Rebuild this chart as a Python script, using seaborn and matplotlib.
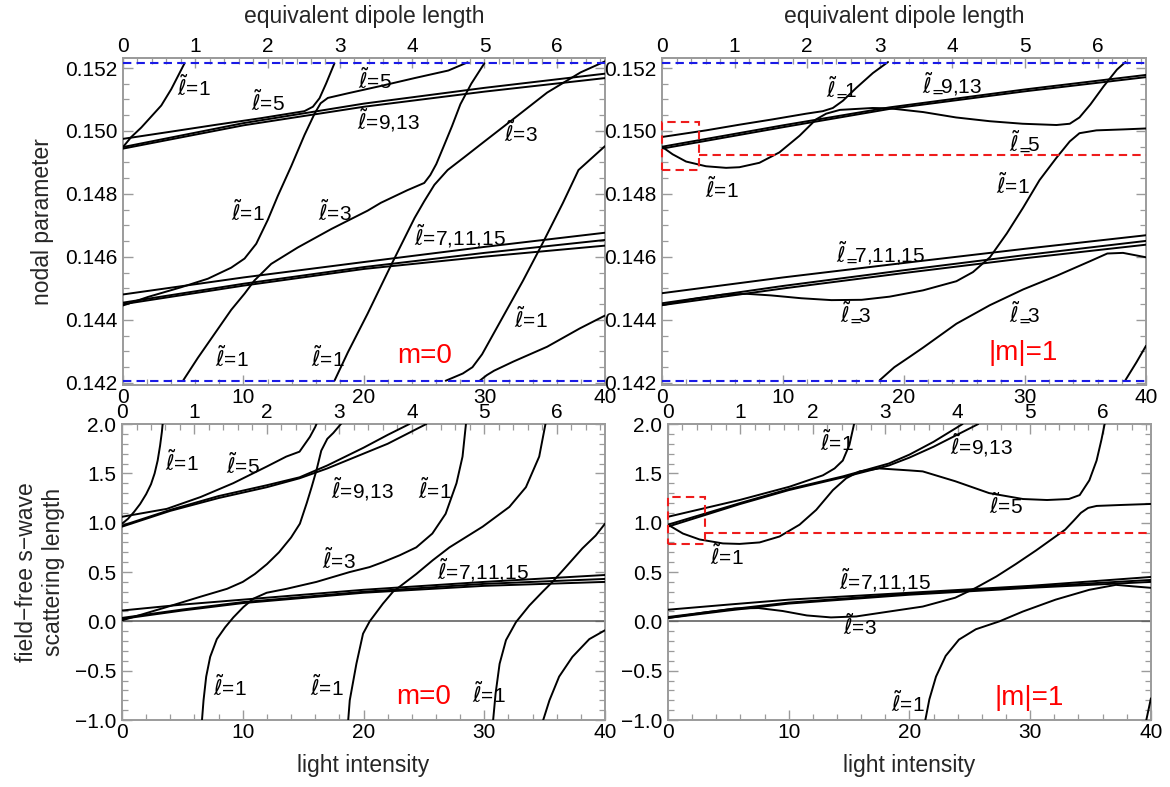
import numpy as np
import pandas as pd
import matplotlib
matplotlib.use("Agg")
import matplotlib.pyplot as plt
from matplotlib.ticker import MultipleLocator, FixedLocator, FuncFormatter
from matplotlib.patches import Rectangle
import seaborn as sns

# ---------------------------------------------------------------
# Curves: (light intensity, value) pairs
# ---------------------------------------------------------------
# m = 0, nodal parameter
TL_CORNER_L1 = [(0.0, 0.14949), (0.69, 0.14981), (1.52, 0.15011), (2.35, 0.15046),
                (3.18, 0.15081), (4.01, 0.15133), (5.11, 0.15215)]
TL_L5 = [(0.0, 0.14975), (4.0, 0.14998), (7.6, 0.15019), (11.5, 0.15041), (15.06, 0.15063),
         (15.76, 0.15077), (16.31, 0.15104), (16.86, 0.15151), (17.55, 0.15215)]
TL_L9 = [(0, 0.14949), (10, 0.15025), (20, 0.15087), (30, 0.15137), (40, 0.15182)]
TL_L13 = [(0, 0.14944), (10, 0.15018), (20, 0.15077), (30, 0.15125), (40, 0.15168)]
TL_L7 = [(0, 0.14481), (10, 0.14535), (20, 0.14584), (30, 0.14632), (40, 0.14677)]
TL_L11 = [(0, 0.14455), (10, 0.14515), (20, 0.14568), (30, 0.14613), (40, 0.14654)]
TL_L15 = [(0, 0.14450), (10, 0.14509), (20, 0.14562), (30, 0.14601), (40, 0.14636)]
TL_MID_L1 = [(0.0, 0.14446), (2.07, 0.14473), (4.84, 0.14504), (7.05, 0.14531), (8.98, 0.14566),
             (10.09, 0.14595), (11.06, 0.14642), (12.02, 0.14718), (12.85, 0.14794),
             (13.96, 0.14888), (15.06, 0.14987), (15.9, 0.15055), (16.4, 0.15088),
             (17.0, 0.15105), (18.7, 0.1512), (21.4, 0.15143), (24.2, 0.15168),
             (27.0, 0.15192), (28.6, 0.15218)]
TL_BRANCH_A = [(4.98, 0.14207), (6.22, 0.1428), (7.6, 0.14356), (8.98, 0.14432), (10.1, 0.14484),
               (10.9, 0.14525), (12.3, 0.14578), (14.5, 0.1463), (17.3, 0.14689), (20.3, 0.14747),
               (21.4, 0.14772), (23.6, 0.14812), (25.0, 0.14835), (25.5, 0.1486), (26.0, 0.14895),
               (26.6, 0.1495), (27.3, 0.15015), (28.0, 0.15085), (28.9, 0.1515), (29.99, 0.15215)]
TL_BRANCH_B = [(17.55, 0.14207), (18.66, 0.14297), (20.3, 0.1442), (22.3, 0.14578), (24.2, 0.14724),
               (25.0, 0.14777), (25.84, 0.14829), (26.94, 0.14876), (28.33, 0.14917),
               (29.7, 0.14958), (32.46, 0.1504), (35.2, 0.15122), (37.97, 0.15186), (40.0, 0.15221)]
TL_BRANCH_C = [(26.78, 0.14207), (28.2, 0.1423), (29.0, 0.1425), (29.8, 0.14291), (31.5, 0.14408),
               (33.2, 0.14525), (34.8, 0.14642), (36.5, 0.14771), (37.8, 0.14876), (40.0, 0.14952)]
TL_BRANCH_D = [(29.6, 0.14207), (30.2, 0.14225), (30.8, 0.14239), (32.4, 0.14268),
               (35.2, 0.14315), (37.9, 0.14373), (40.0, 0.14414)]

# |m| = 1, nodal parameter
TR_TOP_L1 = [(0.0, 0.14981), (3.64, 0.15002), (6.4, 0.1502), (9.16, 0.15037), (11.92, 0.15055),
             (13.3, 0.15063), (14.12, 0.15073), (14.95, 0.15096), (16.06, 0.15137),
             (17.43, 0.15184), (18.68, 0.15219)]
TR_L9 = [(0, 0.1495), (10, 0.15018), (18.8, 0.15075), (30, 0.15132), (40, 0.15178)]
TR_L13 = [(0, 0.14944), (10, 0.15012), (18.8, 0.1507), (30, 0.15126), (40, 0.15171)]
TR_DIP_L1 = [(0.0, 0.1495), (0.88, 0.14926), (1.99, 0.14903), (3.64, 0.14888), (5.3, 0.14883),
             (6.4, 0.14885), (8.05, 0.14899), (9.7, 0.14932), (11.37, 0.14985), (12.74, 0.15037),
             (13.57, 0.15055), (14.7, 0.15067), (17.4, 0.15073), (18.8, 0.15072), (21.6, 0.1506),
             (24.3, 0.15043), (27.1, 0.15031), (29.8, 0.15023), (32.6, 0.15019), (33.7, 0.15023),
             (34.5, 0.15043), (35.4, 0.15084), (36.5, 0.15142), (37.6, 0.15195), (38.3, 0.15219)]
TR_L7 = [(0, 0.14485), (10, 0.14535), (20, 0.14581), (30, 0.14626), (40, 0.14669)]
TR_L11 = [(0, 0.14453), (10, 0.14508), (20, 0.14558), (30, 0.14606), (40, 0.14651)]
TR_L15 = [(0, 0.14447), (10, 0.145), (20, 0.14549), (30, 0.14596), (40, 0.14639)]
TR_MID_L3 = [(0.0, 0.14447), (2.5, 0.14466), (5.0, 0.14480), (7.0, 0.14483), (9.0, 0.14478),
             (11.5, 0.14469), (14.0, 0.14463), (16.5, 0.14464), (18.81, 0.14474),
             (21.57, 0.14494), (24.33, 0.14523), (25.7, 0.14552), (27.1, 0.14599), (28.5, 0.14675),
             (29.85, 0.14757), (31.2, 0.14844), (32.6, 0.14915), (33.7, 0.14967), (34.5, 0.14993),
             (35.9, 0.15002), (38.1, 0.15005), (40.0, 0.15008)]
TR_LOW_L3 = [(18.0, 0.14209), (19.2, 0.1425), (20.47, 0.14283), (21.57, 0.14312), (24.33, 0.14388),
             (27.1, 0.14447), (29.85, 0.14497), (32.6, 0.1454), (35.4, 0.14587), (36.8, 0.14611),
             (38.1, 0.14613), (40.0, 0.14599)]
TR_CORNER = [(38.3, 0.14209), (39.2, 0.14265), (40.0, 0.14318)]

# m = 0, scattering length
BL_CORNER_L1 = [(0.0, 0.99), (0.5, 1.04), (1.0, 1.11), (1.5, 1.19), (2.0, 1.29), (2.4, 1.39),
                (2.7, 1.5), (2.95, 1.63), (3.15, 1.78), (3.3, 1.92), (3.38, 2.02)]
BL_L5 = [(0.0, 1.06), (3.7, 1.14), (6.5, 1.26), (9.2, 1.4), (12.0, 1.57), (13.6, 1.67),
         (14.7, 1.72), (15.56, 1.87), (16.0, 1.97), (16.24, 2.04)]
BL_L9 = [(0, 0.97), (4, 1.13), (8, 1.27), (12, 1.38), (14.7, 1.46), (17, 1.58), (20, 1.76),
         (22, 1.89), (23.8, 2.0)]
BL_L13 = [(0, 0.96), (4, 1.12), (8, 1.25), (12, 1.36), (14.7, 1.45), (17, 1.55), (20, 1.7),
          (22, 1.8), (25.2, 2.0)]
BL_L7 = [(0, 0.11), (5, 0.17), (10, 0.22), (20, 0.32), (30, 0.4), (40, 0.47)]
BL_L11 = [(0, 0.035), (5, 0.12), (10, 0.195), (20, 0.3), (30, 0.38), (40, 0.43)]
BL_L15 = [(0, 0.025), (5, 0.11), (10, 0.185), (20, 0.29), (30, 0.36), (40, 0.4)]
BL_MID_L1 = [(0.0, 0.01), (3.7, 0.145), (6.5, 0.25), (8.7, 0.33), (10.0, 0.4), (11.0, 0.48),
             (12.0, 0.58), (13.0, 0.7), (14.0, 0.85), (14.73, 0.99), (15.3, 1.2), (15.7, 1.36),
             (16.1, 1.53), (16.5, 1.73), (17.0, 1.85), (17.5, 1.91), (18.4, 2.04)]
BL_BRANCH_A = [(6.61, -1.02), (6.75, -0.8), (6.97, -0.56), (7.3, -0.36), (7.85, -0.18),
               (8.54, -0.06), (9.22, 0.04), (10.05, 0.145), (10.88, 0.23), (11.98, 0.29),
               (13.63, 0.33), (16.1, 0.4), (18.86, 0.5), (20.5, 0.55), (21.6, 0.6), (23.0, 0.67),
               (24.37, 0.75), (25.7, 0.89), (26.8, 1.09), (27.7, 1.4), (28.2, 1.67), (28.5, 2.02)]
BL_BRANCH_B = [(18.72, -1.02), (18.86, -0.8), (19.41, -0.43), (19.96, -0.125), (20.51, 0.0),
               (21.61, 0.18), (22.44, 0.3), (24.37, 0.48), (25.74, 0.62), (27.12, 0.75),
               (29.87, 0.96), (32.08, 1.16), (33.45, 1.36), (34.55, 1.67), (35.1, 2.02)]
BL_BRANCH_C = [(30.72, -1.02), (30.94, -0.73), (31.27, -0.43), (31.8, -0.19), (32.63, -0.007),
               (33.73, 0.16), (34.83, 0.3), (35.65, 0.4), (36.75, 0.55), (38.13, 0.74),
               (39.23, 0.87), (40.0, 0.99)]
BL_BRANCH_D = [(34.83, -1.02), (35.4, -0.8), (36.2, -0.56), (37.3, -0.36), (38.7, -0.18),
               (40.0, -0.09)]

# |m| = 1, scattering length
BR_TOP_L1 = [(0.0, 1.06), (5.93, 1.23), (10.07, 1.365), (12.83, 1.48), (13.8, 1.55),
             (14.48, 1.63), (15.03, 1.79), (15.45, 2.02)]
BR_L9 = [(0, 0.98), (6, 1.2), (10, 1.34), (14.5, 1.47), (18.3, 1.6), (20, 1.69), (22, 1.82),
         (24.4, 2.0)]
BR_L13 = [(0, 0.96), (6, 1.19), (10, 1.33), (14.5, 1.46), (18.3, 1.58), (20, 1.66), (22, 1.77),
          (25.7, 2.0)]
BR_DIP_L1 = [(0.0, 0.98), (1.24, 0.89), (2.62, 0.83), (4.55, 0.79), (5.93, 0.785), (7.59, 0.8),
             (9.24, 0.86), (10.9, 0.98), (12.28, 1.13), (13.66, 1.33), (14.76, 1.45),
             (15.86, 1.52), (17.5, 1.55), (20.0, 1.53), (21.1, 1.52), (23.8, 1.42), (26.6, 1.3),
             (29.4, 1.24), (31.4, 1.23), (33.2, 1.24), (34.1, 1.28), (34.9, 1.43), (35.5, 1.63),
             (35.9, 1.84), (36.2, 2.02)]
BR_L7 = [(0, 0.118), (5, 0.17), (10, 0.22), (20, 0.29), (30, 0.36), (40, 0.45)]
BR_L11 = [(0, 0.044), (5, 0.12), (10, 0.19), (20, 0.28), (30, 0.35), (40, 0.42)]
BR_L15 = [(0, 0.034), (5, 0.11), (10, 0.18), (20, 0.27), (30, 0.34), (40, 0.4)]
BR_MID_L3 = [(0.0, 0.034), (3.0, 0.09), (5.5, 0.13), (7.5, 0.135), (9.5, 0.105), (11.5, 0.06),
             (13.5, 0.04), (15.6, 0.05), (18.34, 0.1), (21.1, 0.15), (23.8, 0.24), (25.5, 0.34),
             (27.2, 0.455), (28.8, 0.58), (30.5, 0.72), (32.1, 0.86), (32.9, 0.93), (33.6, 1.02),
             (34.2, 1.1), (34.8, 1.15), (35.5, 1.17), (37.6, 1.18), (40.0, 1.19)]
BR_LOW_L1 = [(21.3, -1.01), (21.65, -0.79), (22.2, -0.56), (23.0, -0.35), (24.1, -0.185),
             (25.5, -0.08), (27.45, 0.0), (29.4, 0.1), (32.1, 0.22), (34.9, 0.32), (37.1, 0.37),
             (38.5, 0.355), (40.0, 0.34)]
BR_CORNER = [(39.6, -1.01), (40.0, -0.78)]

# Curve labels: (text, intensity, value)
L = r'$\tilde{\ell}$='
LS = r'$\tilde{\ell}_{\!=}\!\!$'
TL_LABELS = [(L + '1', 5.9, 0.15139), (L + '5', 12.0, 0.15092), (L + '5', 20.9, 0.15163),
             (L + '9,13', 22.0, 0.15034), (L + '3', 33.0, 0.14993), (L + '1', 10.4, 0.14742),
             (L + '3', 17.55, 0.14742), (L + '7,11,15', 28.0, 0.14666), (L + '1', 9.0, 0.1428),
             (L + '1', 17.0, 0.1428), (L + '1', 33.85, 0.14402)]
TR_LABELS = [(LS + '1', 14.87, 0.1514), (LS + '9,13', 24.0, 0.15149), (L + '1', 4.94, 0.14815),
             (LS + '5', 30.0, 0.14967), (L + '1', 29.0, 0.14827), (LS + '7,11,15', 18.1, 0.14611),
             (LS + '3', 16.0, 0.14423), (LS + '3', 30.0, 0.14423)]
BL_LABELS = [(L + '1', 4.96, 1.615), (L + '5', 10.0, 1.58), (L + '9,13', 19.9, 1.345),
             (L + '1', 25.9, 1.33), (L + '3', 18.0, 0.62), (L + '7,11,15', 29.9, 0.52),
             (L + '1', 8.95, -0.665), (L + '1', 16.93, -0.665), (L + '1', 30.37, -0.733)]
BR_LABELS = [(L + '1', 14.0, 1.82), (L + '9,13', 26.0, 1.79), (L + '5', 27.95, 1.18),
             (L + '1', 4.88, 0.657), (L + '7,11,15', 18.0, 0.42), (L + '3', 15.9, -0.05),
             (L + '1', 19.9, -0.826)]

PANEL_TAGS = ['m=0', '|m|=1', 'm=0', '|m|=1']
TAG_POS = [(25.0, 0.14285), (29.85, 0.14295), (24.97, -0.767), (29.88, -0.775)]

# reference levels
NODAL_BOUNDS = [0.14207, 0.15217]
TR_MARK_LEVEL = 0.14923
TR_MARK_BOX = (0.0, 0.14876, 3.03, 0.15028)
BR_MARK_LEVEL = 0.90
BR_MARK_BOX = (0.0, 0.785, 3.03, 1.257)

INTENSITY_PER_DIPOLE = 6.0
DIPOLE_TICKS = [0, 1, 2, 3, 4, 5, 6]

# ---------------------------------------------------------------
sns.set_style("ticks")
plt.rcParams['font.family'] = ['Liberation Sans', 'DejaVu Sans']
plt.rcParams['mathtext.fontset'] = 'dejavusans'
plt.rcParams['axes.unicode_minus'] = True

FRAME = '#9b9b9b'
TICK_FS = 15
LABEL_FS = 16.5
CURVE_FS = 15


def long_frame(curves):
    parts = []
    for k, pts in enumerate(curves):
        arr = np.asarray(pts, dtype=float)
        parts.append(pd.DataFrame({'intensity': arr[:, 0], 'value': arr[:, 1], 'curve': k}))
    return pd.concat(parts, ignore_index=True)


def to_dipole(x):
    return np.asarray(x) / INTENSITY_PER_DIPOLE


def to_intensity(d):
    return np.asarray(d) * INTENSITY_PER_DIPOLE


def style(ax, top_row):
    ax.set_xlim(0, 40)
    for sp in ax.spines.values():
        sp.set_color(FRAME)
        sp.set_linewidth(1.4)
    ax.xaxis.set_major_locator(MultipleLocator(10))
    ax.xaxis.set_minor_locator(MultipleLocator(2))
    ax.tick_params(which='both', direction='in', top=False, right=True, color=FRAME,
                   labelsize=TICK_FS, labelcolor='black')
    ax.tick_params(axis='y', pad=4)
    ax.tick_params(axis='x', pad=2)
    ax.tick_params(which='major', length=7, width=1.0)
    ax.tick_params(which='minor', length=4, width=0.9)
    if top_row:
        ax.set_ylim(0.14192, 0.15233)
        ax.yaxis.set_major_locator(MultipleLocator(0.002))
        ax.yaxis.set_minor_locator(MultipleLocator(0.0005))
        ax.yaxis.set_major_formatter(FuncFormatter(lambda v, p: f'{v:.3f}'))
    else:
        ax.set_ylim(-1.0, 2.0)
        ax.yaxis.set_major_locator(MultipleLocator(0.5))
        ax.yaxis.set_minor_locator(MultipleLocator(0.1))
        ax.yaxis.set_major_formatter(
            FuncFormatter(lambda v, p: f'{v:.1f}'.replace('-', '\u2212')))
    sec = ax.secondary_xaxis('top', functions=(to_dipole, to_intensity))
    sec.xaxis.set_major_locator(FixedLocator(DIPOLE_TICKS))
    sec.xaxis.set_minor_locator(FixedLocator(np.arange(0, 6.61, 0.2)))
    sec.tick_params(which='both', direction='in', color=FRAME, labelsize=TICK_FS,
                    labelcolor='black', pad=1.5)
    sec.tick_params(which='major', length=7, width=1.0)
    sec.tick_params(which='minor', length=4, width=0.9)
    sec.spines['top'].set_color(FRAME)
    sec.spines['top'].set_linewidth(1.4)
    return sec


fig = plt.figure(figsize=(11.7, 7.87), dpi=100)
ax_tl = fig.add_axes([0.1051, 0.5102, 0.4120, 0.4166])
ax_tr = fig.add_axes([0.5658, 0.5102, 0.4137, 0.4166])
ax_bl = fig.add_axes([0.1043, 0.0851, 0.4128, 0.3761])
ax_br = fig.add_axes([0.5709, 0.0851, 0.4128, 0.3761])

panels = [
    (ax_tl, True, [TL_CORNER_L1, TL_L5, TL_L9, TL_L13, TL_L7, TL_L11, TL_L15, TL_MID_L1,
                   TL_BRANCH_A, TL_BRANCH_B, TL_BRANCH_C, TL_BRANCH_D], TL_LABELS),
    (ax_tr, True, [TR_TOP_L1, TR_L9, TR_L13, TR_DIP_L1, TR_L7, TR_L11, TR_L15, TR_MID_L3,
                   TR_LOW_L3, TR_CORNER], TR_LABELS),
    (ax_bl, False, [BL_CORNER_L1, BL_L5, BL_L9, BL_L13, BL_L7, BL_L11, BL_L15, BL_MID_L1,
                    BL_BRANCH_A, BL_BRANCH_B, BL_BRANCH_C, BL_BRANCH_D], BL_LABELS),
    (ax_br, False, [BR_TOP_L1, BR_L9, BR_L13, BR_DIP_L1, BR_L7, BR_L11, BR_L15, BR_MID_L3,
                    BR_LOW_L1, BR_CORNER], BR_LABELS),
]

secs = []
for i, (ax, top_row, curves, labels) in enumerate(panels):
    df = long_frame(curves)
    if not top_row:
        ax.axhline(0.0, color='#555555', lw=1.1, zorder=1)
    sns.lineplot(data=df, x='intensity', y='value', units='curve', estimator=None, sort=False,
                 color='black', linewidth=1.4, ax=ax, legend=False, zorder=3)
    secs.append(style(ax, top_row))
    ax.set_xlabel('')
    ax.set_ylabel('')
    for text, x, y in labels:
        ax.text(x, y, text, fontsize=CURVE_FS, ha='center', va='center', color='black', zorder=5)
    tx, ty = TAG_POS[i]
    ax.text(tx, ty, PANEL_TAGS[i], fontsize=20, color='#ff0000', ha='center', va='center',
            zorder=5)
    if top_row:
        for lvl in NODAL_BOUNDS:
            ax.axhline(lvl, color='#1a1ae6', lw=1.5, dashes=(4, 2.5), zorder=4)

# marked regions in the |m|=1 panels
for ax, level, box in [(ax_tr, TR_MARK_LEVEL, TR_MARK_BOX), (ax_br, BR_MARK_LEVEL, BR_MARK_BOX)]:
    x0, y0, x1, y1 = box
    ax.add_patch(Rectangle((x0, y0), x1 - x0, y1 - y0, fill=False, edgecolor='#ee1c1c',
                           lw=1.5, linestyle=(0, (4, 2.5)), zorder=4, clip_on=False))
    ax.plot([x1, 40], [level, level], color='#ee1c1c', lw=1.5, dashes=(4, 2.5), zorder=4)

# axis titles
secs[0].set_xlabel('equivalent dipole length', fontsize=LABEL_FS, labelpad=10)
secs[1].set_xlabel('equivalent dipole length', fontsize=LABEL_FS, labelpad=10)
ax_bl.set_xlabel('light intensity', fontsize=LABEL_FS, labelpad=9)
ax_br.set_xlabel('light intensity', fontsize=LABEL_FS, labelpad=9)
ax_tl.set_ylabel('nodal parameter', fontsize=LABEL_FS)
ax_tl.yaxis.set_label_coords(-0.143, 0.5)
ax_bl.set_ylabel('field\u2212free s\u2212wave\nscattering length', fontsize=LABEL_FS,
                 linespacing=1.25)
ax_bl.yaxis.set_label_coords(-0.118, 0.5)

fig.savefig('out.png', dpi=100, facecolor='white')
